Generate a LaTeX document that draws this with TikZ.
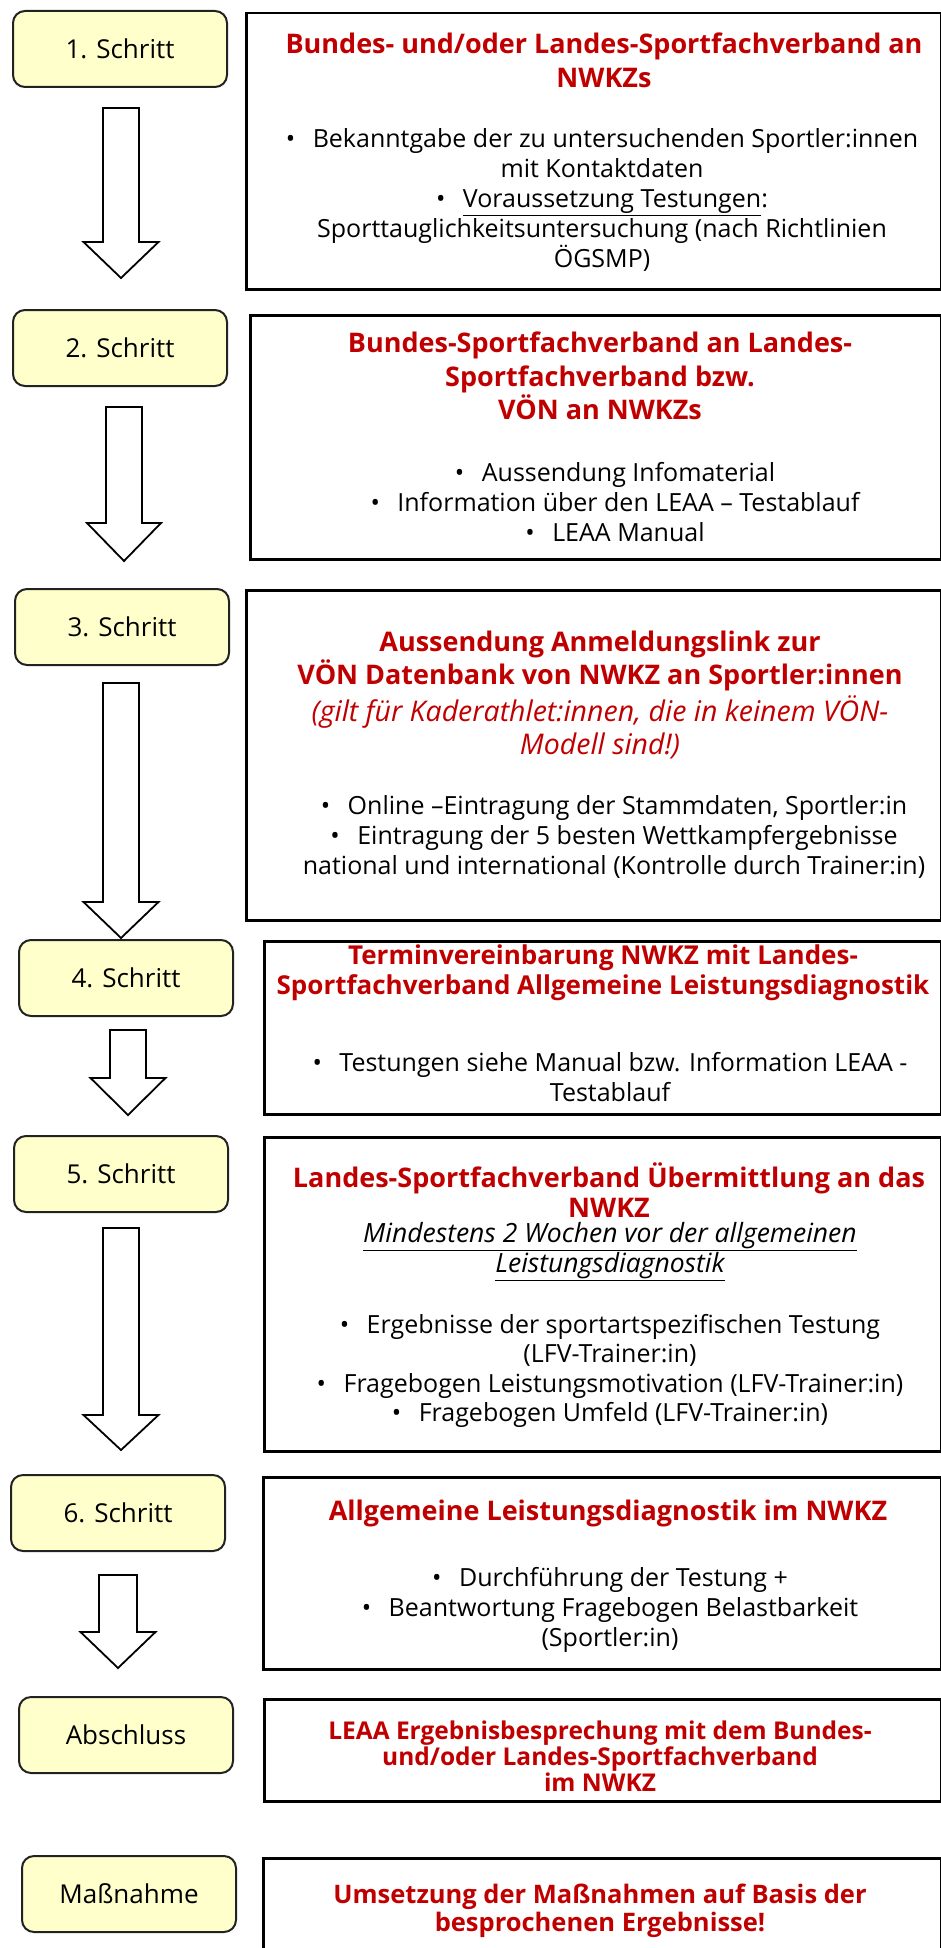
\documentclass[tikz,border=0pt]{standalone}
\usepackage{fontspec}
\setmainfont{Open Sans}
\definecolor{stepfill}{HTML}{FFFFCC}
\definecolor{titlered}{HTML}{C00000}
\definecolor{edge}{HTML}{222222}
\newcommand{\bul}{\textbullet\hspace{0.7em}}
\begin{document}
\begin{tikzpicture}[x=1pt,y=-1pt,
  stepbox/.style={draw=edge,line width=2pt,fill=stepfill,rounded corners=12pt,
    minimum width=214pt,minimum height=76pt,inner sep=0pt,
    font=\fontsize{26}{30}\selectfont},
  infobox/.style={draw=black,line width=2.5pt,anchor=north west,inner sep=0pt},
  ttl/.style={align=center,text=titlered,inner sep=0pt,
    font=\fontsize{27}{33}\selectfont\bfseries},
  ttlit/.style={align=center,text=titlered,inner sep=0pt,
    font=\fontsize{28.5}{33}\selectfont\itshape},
  body/.style={align=center,inner sep=0pt,
    font=\fontsize{25}{30}\selectfont},
  bodyit/.style={align=center,inner sep=0pt,
    font=\fontsize{26.5}{30}\selectfont\itshape},
  barrow/.style={draw=black,line width=1.8pt,fill=white,line join=miter}
]
\useasboundingbox (0,0) rectangle (941,1948);

% step boxes
\node[stepbox] (s1) at (120,49)   {1. Schritt};
\node[stepbox] (s2) at (120,348)  {2. Schritt};
\node[stepbox] (s3) at (122,627)  {3. Schritt};
\node[stepbox] (s4) at (126,978)  {4. Schritt};
\node[stepbox] (s5) at (121,1174) {5. Schritt};
\node[stepbox] (s6) at (118,1513) {6. Schritt};
\node[stepbox] (s7) at (126,1735) {Abschluss};
\node[stepbox] (s8) at (129,1894) {Maßnahme};

% info boxes
\node[infobox,minimum width=695pt,minimum height=276pt] (b1) at (245,12) {};
\node[infobox,minimum width=691pt,minimum height=244pt] (b2) at (249,314) {};
\node[infobox,minimum width=695pt,minimum height=330pt] (b3) at (245,589) {};
\node[infobox,minimum width=677pt,minimum height=173pt] (b4) at (263,940) {};
\node[infobox,minimum width=677pt,minimum height=314pt] (b5) at (263,1136) {};
\node[infobox,minimum width=678pt,minimum height=192pt] (b6) at (262,1476) {};
\node[infobox,minimum width=677pt,minimum height=102pt] (b7) at (263,1698) {};
\node[infobox,minimum width=678pt,minimum height=140pt] (b8) at (262,1857) {};

% block arrows
\newcommand{\blockarrow}[6]{% cx, top, headbase, tip, halfshaft, halfhead
  \draw[barrow] (#1-#5,#2) -- (#1+#5,#2) -- (#1+#5,#3) -- (#1+#6,#3)
    -- (#1,#4) -- (#1-#6,#3) -- (#1-#5,#3) -- cycle;}
\blockarrow{121}{108}{242}{278}{18}{37.5}
\blockarrow{124}{407}{523}{561}{18}{37}
\blockarrow{121}{683}{902}{938}{18}{37.5}
\blockarrow{128}{1030}{1078}{1115}{18}{37.5}
\blockarrow{121}{1228}{1415}{1450}{18}{37.5}
\blockarrow{118}{1575}{1632}{1668}{19}{37.5}

% box 1
\node[ttl,font=\fontsize{27}{34}\selectfont\bfseries] (t1) at (604,60) {Bundes- und/oder Landes-Sportfachverband an\\NWKZs};
\node[body] (c1) at (602,200) {\bul Bekanntgabe der zu untersuchenden Sportler:innen\\
  mit Kontaktdaten\\
  \bul\underline{Voraussetzung Testungen}:\\
  Sporttauglichkeitsuntersuchung (nach Richtlinien\\
  ÖGSMP)};

% box 2
\node[ttl,font=\fontsize{27}{33.5}\selectfont\bfseries] (t2) at (600,376) {Bundes-Sportfachverband an Landes-\\Sportfachverband bzw.\\VÖN an NWKZs};
\node[body] (c2) at (615,502) {\bul Aussendung Infomaterial\\
  \bul Information über den LEAA – Testablauf\\
  \bul LEAA Manual};

% box 3
\node[ttl] (t3a) at (600,661) {Aussendung Anmeldungslink zur\\VÖN Datenbank von NWKZ an Sportler:innen};
\node[ttlit] (t3b) at (600,727) {(gilt für Kaderathlet:innen, die in keinem VÖN-\\Modell sind!)};
\node[body] (c3) at (614,837) {\bul Online –Eintragung der Stammdaten, Sportler:in\\
  \bul Eintragung der 5 besten Wettkampfergebnisse\\
  national und international (Kontrolle durch Trainer:in)};

% box 4
\node[ttl,font=\fontsize{26}{30}\selectfont\bfseries] (t4) at (603,973) {Terminvereinbarung NWKZ mit Landes-\\Sportfachverband Allgemeine Leistungsdiagnostik};
\node[body] (c4) at (610,1077) {\bul Testungen siehe Manual bzw. Information LEAA -\\Testablauf};

% box 5
\node[ttl,font=\fontsize{27}{30}\selectfont\bfseries] (t5) at (609,1190) {Landes-Sportfachverband Übermittlung an das\\NWKZ};
\node[bodyit] (i5) at (610,1252) {\underline{Mindestens 2 Wochen vor der allgemeinen}\\\underline{Leistungsdiagnostik}};
\node[body,font=\fontsize{25}{29.3}\selectfont] (c5) at (610,1371) {\bul Ergebnisse der sportartspezifischen Testung\\
  (LFV-Trainer:in)\\
  \bul Fragebogen Leistungsmotivation (LFV-Trainer:in)\\
  \bul Fragebogen Umfeld (LFV-Trainer:in)};

% box 6
\node[ttl] (t6) at (608,1513) {Allgemeine Leistungsdiagnostik im NWKZ};
\node[body] (c6) at (610,1610) {\bul Durchführung der Testung +\\
  \bul Beantwortung Fragebogen Belastbarkeit\\
  (Sportler:in)};

% box 7
\node[ttl,font=\fontsize{24.5}{26}\selectfont\bfseries] (t7) at (600,1756) {LEAA Ergebnisbesprechung mit dem Bundes-\\und/oder Landes-Sportfachverband\\im NWKZ};

% box 8
\node[ttl,font=\fontsize{25.5}{28}\selectfont\bfseries] (t8) at (600,1911) {Umsetzung der Maßnahmen auf Basis der\\besprochenen Ergebnisse!};
\end{tikzpicture}
\end{document}
